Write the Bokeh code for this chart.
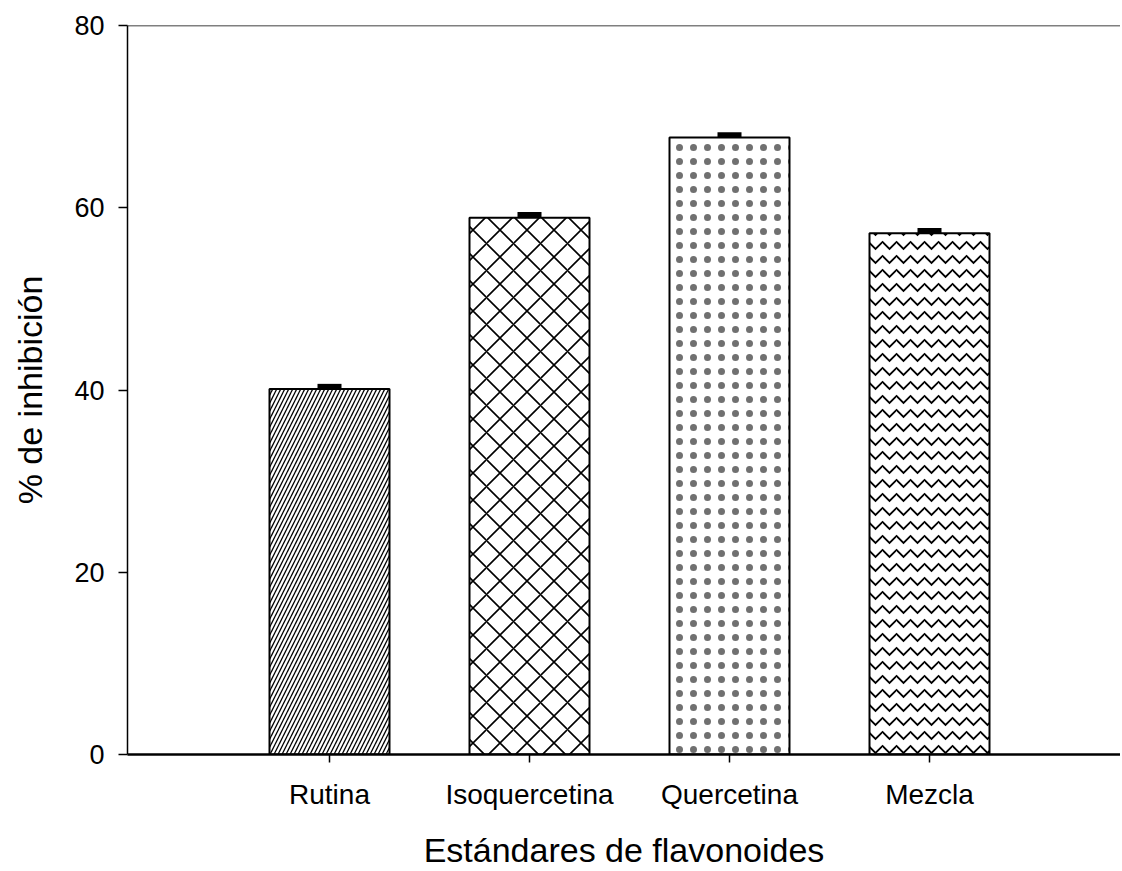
from bokeh.plotting import figure
from bokeh.models import ColumnDataSource, Range1d, FixedTicker, Span
from bokeh.embed import file_html
from bokeh.resources import INLINE

categories = ["Rutina", "Isoquercetina", "Quercetina", "Mezcla"]
inhibition = [40.1, 58.9, 67.7, 57.2]
errors = [0.3, 0.35, 0.3, 0.3]
y_ticks = [0, 20, 40, 60, 80]

positions = [1, 2, 3, 4]
hatch_patterns = ["/", "x", ".", "v"]
hatch_scales = [8, 27, 14, 14]
hatch_weights = [1.3, 1.6, 1.0, 1.8]
hatch_colors = ["black", "black", "#707070", "black"]

FONT = "Liberation Sans"

p = figure(width=1120, height=871, output_backend="svg", toolbar_location=None,
           x_range=Range1d(-0.01, 4.955), y_range=Range1d(0, 80),
           min_border_left=127, min_border_right=0, min_border_top=25, min_border_bottom=117)
p.outline_line_color = None
p.grid.grid_line_color = None
p.background_fill_color = "white"

src = ColumnDataSource(dict(x=positions, top=inhibition, hp=hatch_patterns,
                            hs=hatch_scales, hw=hatch_weights, hc=hatch_colors))
p.vbar(x="x", top="top", width=0.6, bottom=0, source=src,
       fill_color="white", line_color="black", line_width=2,
       hatch_pattern="hp", hatch_scale="hs", hatch_weight="hw", hatch_color="hc")

upper = [v + e for v, e in zip(inhibition, errors)]
p.segment(x0=positions, y0=inhibition, x1=positions, y1=upper, line_color="black", line_width=2)
p.segment(x0=[x - 0.06 for x in positions], y0=upper, x1=[x + 0.06 for x in positions], y1=upper,
          line_color="black", line_width=5)

p.add_layout(Span(location=80, dimension="width", line_color="black", line_width=1.5))

p.xaxis.ticker = FixedTicker(ticks=positions)
p.xaxis.major_label_overrides = {pos: c for pos, c in zip(positions, categories)}
p.yaxis.ticker = FixedTicker(ticks=y_ticks)

for ax in (p.xaxis, p.yaxis):
    ax.axis_line_color = "black"
    ax.major_tick_line_color = "black"
    ax.major_tick_line_width = 1.5
    ax.minor_tick_line_color = None
    ax.major_tick_in = 0
    ax.major_label_text_font = FONT
    ax.major_label_text_color = "black"
    ax.axis_label_text_font = FONT
    ax.axis_label_text_font_size = "34px"
    ax.axis_label_text_font_style = "normal"
    ax.axis_label_text_color = "black"

p.xaxis.major_label_text_font_size = "28px"
p.yaxis.major_label_text_font_size = "27px"
p.xaxis.axis_line_width = 2.5
p.yaxis.axis_line_width = 1.5
p.xaxis.major_tick_out = 8
p.yaxis.major_tick_out = 9
p.xaxis.major_label_standoff = 16
p.yaxis.major_label_standoff = 14
p.xaxis.axis_label = "Estándares de flavonoides"
p.yaxis.axis_label = "% de inhibición"
p.xaxis.axis_label_standoff = 18
p.yaxis.axis_label_standoff = 22

open("out.html", "w").write(file_html(p, INLINE))
